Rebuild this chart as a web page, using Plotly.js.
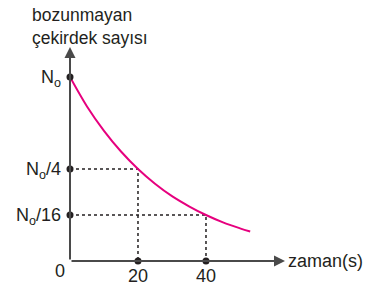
<!DOCTYPE html>
<html>
<head>
<meta charset="utf-8">
<script src="https://cdn.plot.ly/plotly-3.0.1.min.js"></script>
<style>html,body{margin:0;padding:0;background:#fff;}#chart{width:365px;height:285px;}</style>
</head>
<body>
<div id="chart"></div>
<script>
// Decay curve (y in drawn axis units: N0 at 4, N0/4 at 2, N0/16 at 1)
var curveTime = [0, 5, 10, 15, 20, 25, 30, 35, 40, 45, 50, 53];
var curveLevel = [4, 3.36, 2.83, 2.38, 2, 1.68, 1.41, 1.19, 1, 0.84, 0.71, 0.64];

// Marked levels and times
var levelValues = [4, 2, 1];
var levelLabels = ['N<sub>o</sub>', 'N<sub>o</sub>/4', 'N<sub>o</sub>/16'];
var timeValues = [20, 40];
var timeLabels = ['20', '40'];
var timeLevels = [2, 1];

var xMax = 63.24, yMax = 4.652;
var axisColor = '#4a4a4a';
var textColor = '#231f20';
var fontFam = 'Liberation Sans, Arial, sans-serif';

var traces = [];
// dotted guides
for (var i = 0; i < timeValues.length; i++) {
  traces.push({
    x: [0, timeValues[i], timeValues[i]],
    y: [timeLevels[i], timeLevels[i], 0],
    mode: 'lines',
    line: {color: '#231f20', width: 1.5, dash: 'dot'},
    hoverinfo: 'skip', showlegend: false, cliponaxis: false
  });
}
// curve
traces.push({
  x: curveTime, y: curveLevel, mode: 'lines',
  line: {color: '#e6007e', width: 2, shape: 'spline'},
  showlegend: false, cliponaxis: false
});
// dots on axes
traces.push({
  x: [0, 0, 0].concat(timeValues),
  y: levelValues.concat([0, 0]),
  mode: 'markers',
  marker: {color: '#231f20', size: 7},
  showlegend: false, cliponaxis: false
});

var annotations = [
  // x axis arrow
  {x: xMax, y: 0, ax: 0, ay: 0, xref: 'x', yref: 'y', axref: 'x', ayref: 'y',
   showarrow: true, arrowhead: 2, arrowsize: 1.1, arrowwidth: 2, arrowcolor: axisColor, text: ''},
  // y axis arrow
  {x: 0, y: yMax, ax: 0, ay: 0, xref: 'x', yref: 'y', axref: 'x', ayref: 'y',
   showarrow: true, arrowhead: 2, arrowsize: 1.1, arrowwidth: 2, arrowcolor: axisColor, text: ''},
  {x: xMax, y: 0, xref: 'x', yref: 'y', text: 'zaman(s)', showarrow: false,
   xanchor: 'left', yanchor: 'middle', xshift: 1, font: {size: 18, color: textColor, family: fontFam}},
  {x: 0, y: 0, xref: 'x', yref: 'y', text: '0', showarrow: false,
   xanchor: 'center', yanchor: 'middle', xshift: -10, yshift: -10, font: {size: 18, color: textColor, family: fontFam}},
  {x: -0.186, y: 1.098, xref: 'paper', yref: 'paper', text: 'bozunmayan<br>çekirdek sayısı',
   showarrow: false, xanchor: 'left', yanchor: 'middle', align: 'left',
   font: {size: 17.5, color: textColor, family: fontFam}}
];

var layout = {
  width: 365, height: 285,
  margin: {l: 70, r: 80, t: 47, b: 24, pad: 0},
  paper_bgcolor: '#fff', plot_bgcolor: '#fff',
  showlegend: false,
  xaxis: {range: [0, xMax], showgrid: false, zeroline: false, showline: false,
    tickvals: timeValues, ticktext: timeLabels, ticks: '', ticklabelstandoff: 2,
    tickfont: {size: 18, color: textColor, family: fontFam}, fixedrange: true},
  yaxis: {range: [0, yMax], showgrid: false, zeroline: false, showline: false,
    tickvals: levelValues, ticktext: levelLabels, ticks: '', ticklabelstandoff: 8,
    tickfont: {size: 18, color: textColor, family: fontFam}, fixedrange: true},
  annotations: annotations
};

Plotly.newPlot('chart', traces, layout, {displayModeBar: false, staticPlot: true});
</script>
</body>
</html>
